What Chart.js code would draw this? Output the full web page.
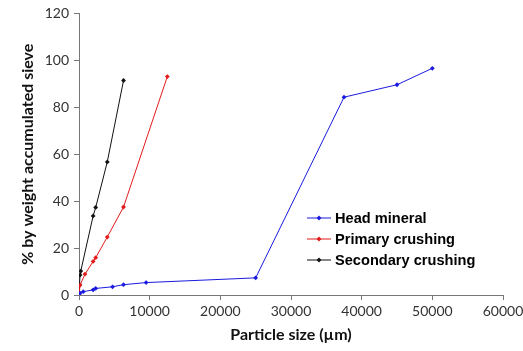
<!DOCTYPE html>
<html>
<head>
<meta charset="utf-8">
<script src="https://cdn.jsdelivr.net/npm/chart.js@4/dist/chart.umd.min.js"></script>
<style>
  html, body { margin: 0; padding: 0; background: #fff; }
  #wrap { width: 523px; height: 351px; position: relative; }
</style>
</head>
<body>
<div id="wrap"><canvas id="chart" width="523" height="351"></canvas></div>
<script>
// particle size (µm) and % accumulated
const headX = [0, 150, 600, 2000, 2360, 4750, 6300, 9500, 25000, 37500, 45000, 50000];
const headY = [0, 0.8, 1.4, 2.2, 2.8, 3.5, 4.4, 5.3, 7.3, 84.3, 89.6, 96.6];
const primaryX = [0, 150, 850, 2000, 2360, 4000, 6300, 12500];
const primaryY = [0, 4.2, 8.9, 14.3, 15.9, 24.7, 37.5, 93.1];
const secondaryX = [0, 75, 150, 250, 2000, 2360, 4000, 6300];
const secondaryY = [0, 4.5, 8.5, 10.2, 33.7, 37.3, 56.7, 91.4];
const seriesLabels = ['Head mineral', 'Primary crushing', 'Secondary crushing'];
const seriesColors = ['#1a1adf', '#e41a1a', '#111111'];
const xTicks = [0, 10000, 20000, 30000, 40000, 50000, 60000];
const yTicks = [0, 20, 40, 60, 80, 100, 120];

function toPoints(xs, ys) {
  return xs.map((x, i) => ({ x: x, y: ys[i] }));
}

const datasets = [
  toPoints(headX, headY),
  toPoints(primaryX, primaryY),
  toPoints(secondaryX, secondaryY),
].map((pts, i) => ({
  label: seriesLabels[i],
  data: pts,
  borderColor: seriesColors[i],
  backgroundColor: seriesColors[i],
  borderWidth: 1,
  pointStyle: 'rectRot',
  pointRadius: 2.4,
  pointBorderWidth: 0,
  tension: 0,
}));

// legend drawn inside the plot, like the original
const insideLegend = {
  id: 'insideLegend',
  afterDraw(chart) {
    const ctx = chart.ctx;
    const x0 = 307, y0 = 218, gap = 21;
    ctx.save();
    chart.data.datasets.forEach((ds, i) => {
      const y = y0 + i * gap;
      ctx.strokeStyle = ds.borderColor;
      ctx.lineWidth = 1;
      ctx.beginPath();
      ctx.moveTo(x0, y);
      ctx.lineTo(x0 + 24, y);
      ctx.stroke();
      ctx.fillStyle = ds.borderColor;
      ctx.beginPath();
      ctx.moveTo(x0 + 12, y - 2.4);
      ctx.lineTo(x0 + 14.4, y);
      ctx.lineTo(x0 + 12, y + 2.4);
      ctx.lineTo(x0 + 9.6, y);
      ctx.closePath();
      ctx.fill();
      ctx.fillStyle = '#000';
      ctx.font = 'bold 14.6px "Liberation Sans", Arial, sans-serif';
      ctx.textBaseline = 'middle';
      ctx.fillText(ds.label, x0 + 28, y + 0.5);
    });
    ctx.restore();
  },
};

const tickFont = { family: 'Lato, "Open Sans", sans-serif', size: 14 };
const titleFont = { family: 'Lato, "Open Sans", sans-serif', size: 16, weight: 'bold' };

new Chart(document.getElementById('chart'), {
  type: 'line',
  data: { datasets: datasets },
  plugins: [insideLegend],
  options: {
    responsive: false,
    animation: false,
    layout: { padding: { top: 8, right: 0, bottom: 3, left: 14 } },
    plugins: { legend: { display: false }, tooltip: { enabled: false } },
    scales: {
      x: {
        type: 'linear',
        min: 0,
        max: 60000,
        afterBuildTicks: (s) => { s.ticks = xTicks.map((v) => ({ value: v })); },
        afterFit: (s) => { s.paddingRight = 20; },
        border: { color: '#777', width: 1 },
        grid: { drawOnChartArea: false, drawTicks: true, tickLength: 5, color: '#777' },
        ticks: { color: '#333', font: tickFont, padding: 3, maxRotation: 0, callback: (v) => String(v) },
        title: { display: true, text: 'Particle size (µm)', color: '#111', font: titleFont, padding: { top: 2 } },
      },
      y: {
        type: 'linear',
        min: 0,
        max: 120,
        afterBuildTicks: (s) => { s.ticks = yTicks.map((v) => ({ value: v })); },
        afterFit: (s) => { s.width = 65; },
        border: { color: '#777', width: 1 },
        grid: { drawOnChartArea: false, drawTicks: true, tickLength: 5, color: '#777' },
        ticks: { color: '#333', font: tickFont, padding: 5, callback: (v) => String(v) },
        title: { display: true, text: '% by weight accumulated sieve', color: '#111', font: titleFont, padding: { bottom: 4 } },
      },
    },
  },
});
</script>
</body>
</html>
